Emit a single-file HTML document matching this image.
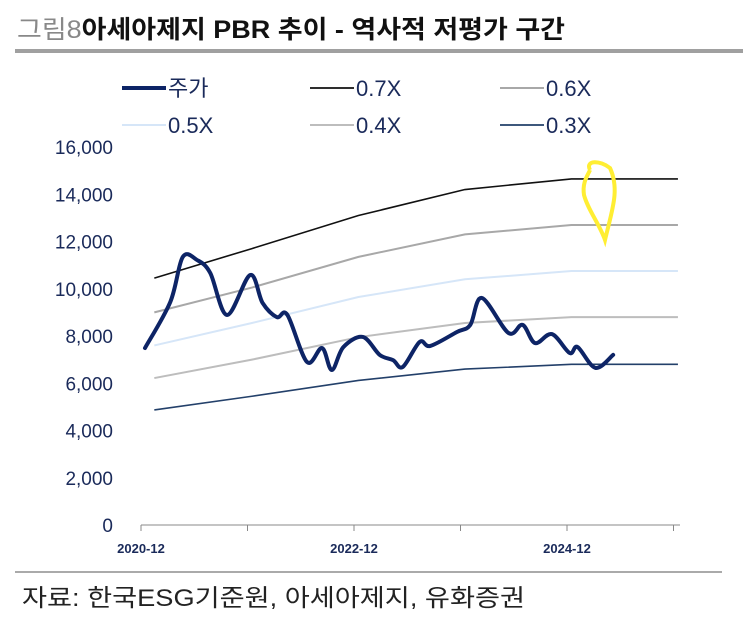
<!DOCTYPE html>
<html><head><meta charset="utf-8"><style>
body{margin:0;background:#fff;width:743px;height:631px;overflow:hidden;font-family:"Liberation Sans","Noto Sans CJK KR",sans-serif}
</style></head><body>
<svg width="743" height="631" style="position:absolute;left:0;top:0">
<text x="17" y="38" font-size="25" textLength="548" lengthAdjust="spacingAndGlyphs" font-family="Liberation Sans,Noto Sans CJK KR,sans-serif"><tspan fill="#888">그림8</tspan><tspan fill="#111" font-weight="bold">아세아제지 PBR 추이 - 역사적 저평가 구간</tspan></text>
<rect x="15" y="49" width="728" height="4" fill="#a0a0a0"/>
<g id="legend" font-size="22" fill="#1a2a5a"></g>
<g id="axes"></g>
<g id="plot"></g>
<line x1="15" y1="572" x2="722" y2="572" stroke="#555" stroke-width="1"/>
<text x="22" y="606" font-size="24" textLength="503" lengthAdjust="spacingAndGlyphs" fill="#222">자료: 한국ESG기준원, 아세아제지, 유화증권</text>
</svg>
<script>
const yTicks=[0,2000,4000,6000,8000,10000,12000,14000,16000];
const xTickLabels=["2020-12","2022-12","2024-12"];
const xTickMonths=[0,24,48];
const bandMonths=[1.5,12.5,24.5,36.5,48.5,60.5];
const band07=[10450,11700,13100,14200,14650,14650];
const band06=[9000,10050,11350,12300,12700,12700];
const band05=[7600,8550,9650,10400,10750,10750];
const band04=[6220,7000,7950,8550,8800,8800];
const band03=[4870,5450,6120,6600,6800,6800];
const priceMonths=[0.45,3.3,4.7,6.3,7.8,9.7,12.3,13.7,15.3,16.5,18.7,20.4,21.5,22.8,25,26.9,28.4,29.5,31.4,32.6,35.6,37.1,38.4,41.4,43,44.4,46.3,48.3,49.2,51.2,53.2];
const priceValues=[7490,9440,11340,11220,10670,8890,10580,9400,8800,8890,6900,7490,6560,7530,7960,7200,6980,6690,7750,7580,8170,8470,9610,8130,8470,7700,8080,7280,7530,6650,7200];
const NS="http://www.w3.org/2000/svg";
const X=m=>141+m*8.875, Y=v=>525-v/2000*47.25;
function mk(tag,attrs,parent,txt){const e=document.createElementNS(NS,tag);for(const k in attrs)e.setAttribute(k,attrs[k]);if(txt!==undefined)e.textContent=txt;parent.appendChild(e);return e;}
const axes=document.getElementById('axes'),plot=document.getElementById('plot'),leg=document.getElementById('legend');
yTicks.forEach(v=>{const t=mk('text',{x:113,y:Y(v)+7,'text-anchor':'end','font-size':19,fill:'#1a2a5a'},axes,v.toLocaleString('en-US'));

});
const ax=mk('line',{x1:141,y1:525,x2:680,y2:525,stroke:'#888','stroke-width':1},axes);


for(let m=0;m<=60;m+=12){const tk=mk('line',{x1:X(m),y1:525,x2:X(m),y2:531,stroke:'#888'},axes);

}
xTickLabels.forEach((l,i)=>{const t=mk('text',{x:X(xTickMonths[i]),y:553,'text-anchor':'middle','font-size':13,'font-weight':'bold',fill:'#1a2a5a'},axes,l);

});
const bands=[[band07,'#111','0.7x-line',1.6],[band06,'#a8a8a8','0.6x-line',2],[band05,'#d6e6f8','0.5x-line',2],[band04,'#bdbdbd','0.4x-line',2],[band03,'#23406a','0.3x-line',1.6]];
bands.forEach(b=>{const p=mk('polyline',{points:bandMonths.map((m,i)=>X(m)+','+Y(b[0][i])).join(' '),fill:'none',stroke:b[1],'stroke-width':b[3]},plot);

});
const pts=priceMonths.map((m,i)=>[X(m),Y(priceValues[i])]);
let d='M'+pts[0];
for(let i=0;i<pts.length-1;i++){const p0=pts[i-1]||pts[i],p1=pts[i],p2=pts[i+1],p3=pts[i+2]||p2;
d+=' C'+(p1[0]+(p2[0]-p0[0])/6)+','+(p1[1]+(p2[1]-p0[1])/6)+' '+(p2[0]-(p3[0]-p1[0])/6)+','+(p2[1]-(p3[1]-p1[1])/6)+' '+p2[0]+','+p2[1];}
const pl=mk('path',{d:d,fill:'none',stroke:'#0d2466','stroke-width':4,'stroke-linejoin':'round','stroke-linecap':'round'},plot);


const hl=mk('path',{d:'M590,170 C585,160 600,160 610,168 C620,190 612,210 605,240 C600,225 588,210 584,195 C582,182 588,175 590,170',fill:'none',stroke:'#ffee33','stroke-width':4},plot);


const items=[['주가','#0d2466',4,122,88],['0.7X','#111',1.8,310,88],['0.6X','#a8a8a8',2,500,88],['0.5X','#d6e6f8',2,122,125],['0.4X','#bdbdbd',2,310,125],['0.3X','#23406a',1.8,500,125]];
items.forEach(it=>{const g=mk('g',{},leg);


mk('line',{x1:it[3],y1:it[4],x2:it[3]+44,y2:it[4],stroke:it[1],'stroke-width':it[2]},g);
mk('text',{x:it[3]+46,y:it[4]+8},g,it[0]);});
</script>
</body></html>
